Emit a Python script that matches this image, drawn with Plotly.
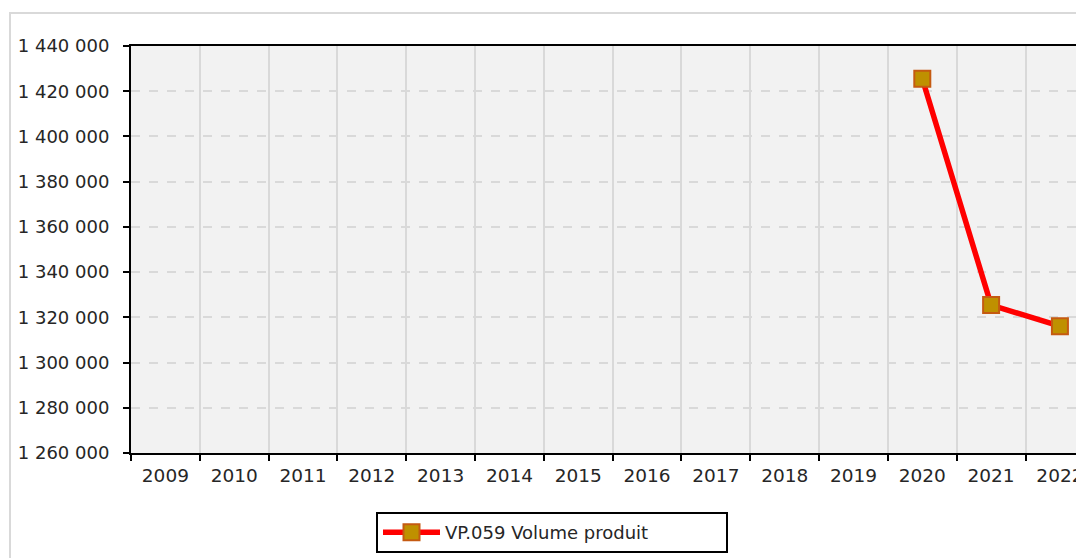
import plotly.graph_objects as go

years = [str(y) for y in range(2009, 2023)]
volume = [None] * 11 + [1425500, 1325400, 1316100]
series_name = "VP.059 Volume produit"
y_ticks = list(range(1260000, 1440001, 20000))

font_family = "DejaVu Sans"
W, H = 1076, 550
L, T, B = 123, 38, 105
PW, PH = W - L, H - T - B

fig = go.Figure()
fig.add_trace(go.Scatter(
    x=years, y=volume, name=series_name, mode="lines+markers",
    line=dict(color="#ff0000", width=5.5),
    marker=dict(symbol="square", size=16, color="#bf9000",
                line=dict(color="#c55a11", width=2)),
    showlegend=True,
))

fig.update_layout(
    width=W, height=H,
    margin=dict(l=L, r=0, t=T, b=B, pad=0),
    paper_bgcolor="white", plot_bgcolor="#f2f2f2",
    separators=". ",
    font=dict(family=font_family, size=18, color="#262626"),
    showlegend=True,
    legend=dict(
        orientation="h", x=(552 - 8 - L) / PW, xanchor="center",
        y=-(512 - 453) / PH, yanchor="top",
        bordercolor="black", borderwidth=2, bgcolor="white",
        font=dict(size=18, color="#262626"),
        itemwidth=57, entrywidth=276, entrywidthmode="pixels",
    ),
)

fig.update_xaxes(
    type="category", categoryorder="array", categoryarray=years,
    range=[-0.5, 13.35], tickson="boundaries",
    showline=True, linecolor="black", linewidth=2, mirror=True,
    ticks="outside", ticklen=6, tickwidth=2, tickcolor="black",
    showgrid=True, gridcolor="#d9d9d9", gridwidth=2,
    ticklabelstandoff=5,
    tickfont=dict(size=18.5, color="#262626"),
)
fig.update_yaxes(
    range=[1260000, 1440000], tickvals=y_ticks, tickformat=",d",
    showline=True, linecolor="black", linewidth=2,
    ticks="outside", ticklen=6, tickwidth=2, tickcolor="black",
    showgrid=True, gridcolor="#d9d9d9", gridwidth=1.5, griddash="dash",
    zeroline=False, ticklabelstandoff=10,
    tickfont=dict(size=18, color="#262626"),
)

# outer chart frame
fig.add_shape(type="rect", xref="paper", yref="paper",
              x0=(10 - 8 - L) / PW, x1=1.05, y0=-0.4, y1=1 + (46 - 13) / PH,
              line=dict(color="#d9d9d9", width=2), fillcolor="rgba(0,0,0,0)",
              layer="below")

fig.write_html("out.html")
